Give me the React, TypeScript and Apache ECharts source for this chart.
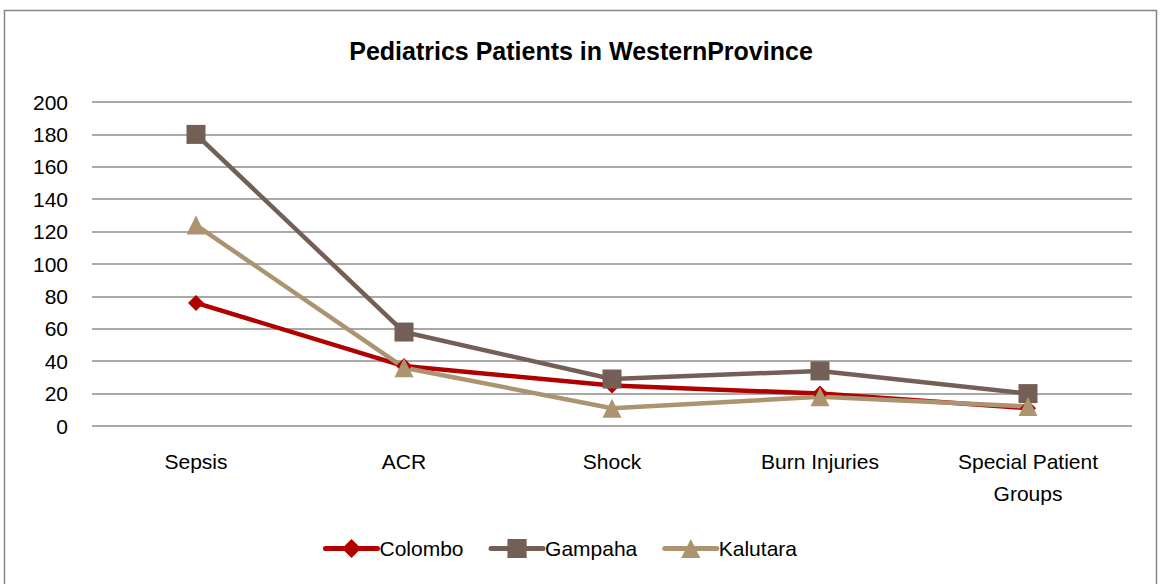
import React, { useEffect, useRef } from "react";
import * as echarts from "echarts";

const categories = ["Sepsis", "ACR", "Shock", "Burn Injuries", "Special Patient\nGroups"];
const colombo = [76, 37, 25, 20, 11];
const gampaha = [180, 58, 29, 34, 20];
const kalutara = [124, 36, 11, 18, 12];
const yTicks = { min: 0, max: 200, interval: 20 };

const FONT = "Liberation Sans";

export default function App() {
  const ref = useRef<HTMLDivElement>(null);
  useEffect(() => {
    document.body.style.margin = "0";
    const chart = echarts.init(ref.current!, null, { renderer: "svg" });
    const mk = (name: string, data: number[], color: string, symbol: string, size: number) => ({
      name,
      type: "line",
      data,
      symbol,
      symbolSize: size,
      lineStyle: { color, width: 4.5 },
      itemStyle: { color },
      z: 3,
    });
    chart.setOption({
      animation: false,
      backgroundColor: "#fff",
      textStyle: { fontFamily: FONT },
      title: {
        text: "Pediatrics Patients in WesternProvince",
        left: "center",
        top: 33,
        textStyle: { fontFamily: FONT, fontSize: 25, fontWeight: "bold", color: "#000" },
      },
      graphic: [
        {
          type: "rect",
          shape: { x: 4.5, y: 10.5, width: 1152, height: 600 },
          style: { fill: "none", stroke: "#868686", lineWidth: 1.5 },
          silent: true,
        },
      ],
      legend: {
        bottom: 20,
        left: 318,
        itemWidth: 52,
        itemHeight: 24,
        itemGap: 25,
        lineStyle: { width: 5, cap: "round" },
        textStyle: { fontFamily: FONT, fontSize: 21, color: "#000", padding: [0, 0, 0, -3] },
        data: ["Colombo", "Gampaha", "Kalutara"],
      },
      grid: { left: 92, right: 30, top: 102, bottom: 158, containLabel: false },
      xAxis: {
        type: "category",
        data: categories,
        axisLine: { show: false },
        axisTick: { show: false },
        axisLabel: { fontFamily: FONT, fontSize: 21, color: "#000", margin: 19, lineHeight: 32 },
        splitLine: { show: false },
      },
      yAxis: {
        type: "value",
        min: yTicks.min,
        max: yTicks.max,
        interval: yTicks.interval,
        axisLine: { show: false },
        axisTick: { show: false },
        axisLabel: { fontFamily: FONT, fontSize: 21, color: "#000", margin: 24 },
        splitLine: { lineStyle: { color: "#8c8c8c", width: 1.5 } },
      },
      series: [
        mk("Colombo", colombo, "#B00000", "diamond", 16),
        mk("Gampaha", gampaha, "#735F55", "rect", 19),
        mk("Kalutara", kalutara, "#AC9470", "triangle", 19),
      ],
    });
    return () => chart.dispose();
  }, []);
  return <div ref={ref} style={{ width: 1162, height: 584, position: "absolute", left: 0, top: 0 }} />;
}
